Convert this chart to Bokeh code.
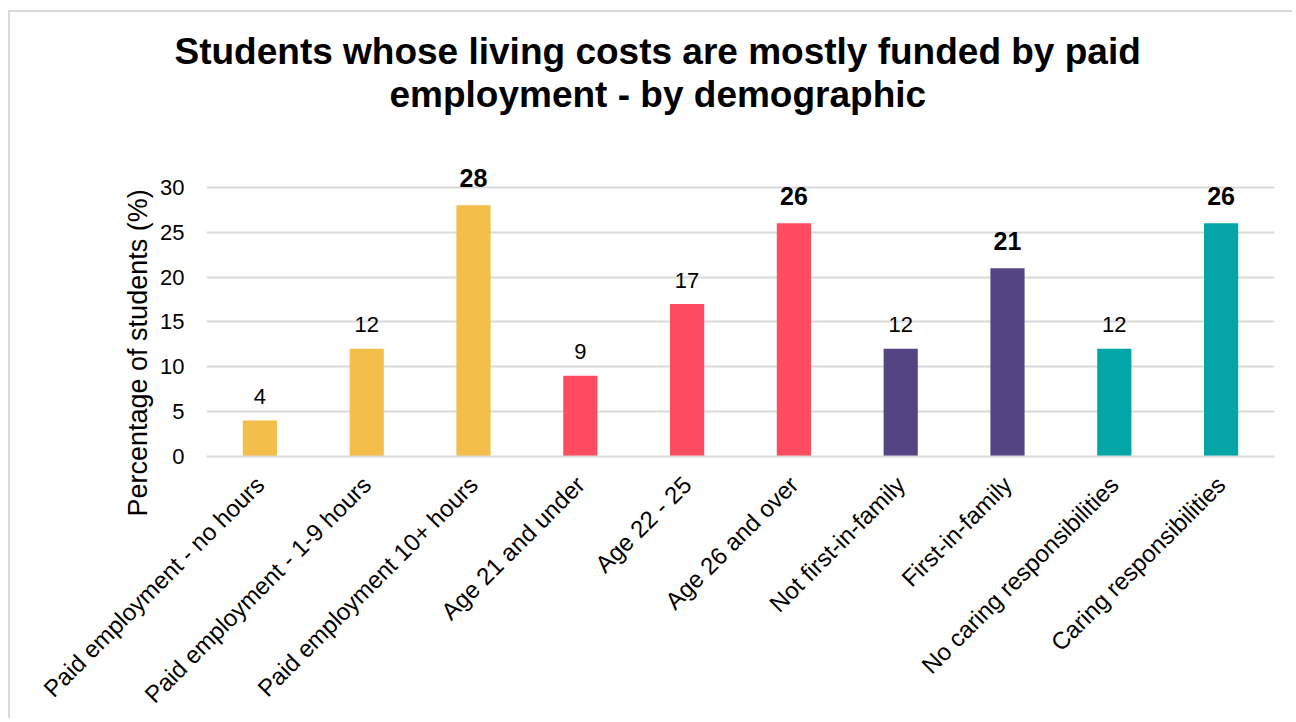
import math
from bokeh.plotting import figure
from bokeh.models import ColumnDataSource, FactorRange, Range1d, Title, FixedTicker
from bokeh.embed import file_html
from bokeh.resources import INLINE

# ---- data ----
categories = [
    "Paid employment - no hours",
    "Paid employment - 1-9 hours",
    "Paid employment 10+ hours",
    "Age 21 and under",
    "Age 22 - 25",
    "Age 26 and over",
    "Not first-in-family",
    "First-in-family",
    "No caring responsibilities",
    "Caring responsibilities",
]
values = [4, 12, 28, 9, 17, 26, 12, 21, 12, 26]
groups = ["Paid employment"] * 3 + ["Age"] * 3 + ["First-in-family"] * 2 + ["Caring"] * 2
y_ticks = [0, 5, 10, 15, 20, 25, 30]
title_lines = ["Students whose living costs are mostly funded by paid",
               "employment - by demographic"]
y_label = "Percentage of students (%)"

# ---- styles ----
group_colors = {"Paid employment": "#F4BE4A", "Age": "#FF4B5F",
                "First-in-family": "#544484", "Caring": "#02A6A6"}
FONT = "Liberation Sans"

colors = [group_colors[g] for g in groups]
group_max = {}
for g, v in zip(groups, values):
    group_max[g] = max(group_max.get(g, 0), v)
is_bold = [v == group_max[g] for g, v in zip(groups, values)]

src = ColumnDataSource(dict(cat=categories, val=values, color=colors))
src_norm = ColumnDataSource(dict(
    cat=[c for c, b in zip(categories, is_bold) if not b],
    val=[v for v, b in zip(values, is_bold) if not b],
    label=[str(v) for v, b in zip(values, is_bold) if not b]))
src_bold = ColumnDataSource(dict(
    cat=[c for c, b in zip(categories, is_bold) if b],
    val=[v for v, b in zip(values, is_bold) if b],
    label=[str(v) for v, b in zip(values, is_bold) if b]))

p = figure(
    x_range=FactorRange(*categories, range_padding=0),
    y_range=Range1d(0, 33),
    width=1284, height=708,
    title=None,
    output_backend="svg", toolbar_location=None,
    min_border_left=196, min_border_right=20,
    min_border_top=0, min_border_bottom=259,
    styles={"margin-left": "8px", "margin-top": "10px",
            "border-left": "2px solid #D9D9D9", "border-top": "2px solid #D9D9D9"},
)
p.outline_line_color = None
p.background_fill_color = "white"
p.border_fill_color = "white"

p.vbar(x="cat", top="val", width=0.32, color="color", line_color=None, source=src)

p.text(x="cat", y="val", text="label", source=src_norm,
       text_align="center", text_baseline="alphabetic", y_offset=-24,
       text_font={"value": FONT}, text_font_size={"value": "22px"}, text_color="#000000")
p.text(x="cat", y="val", text="label", source=src_bold,
       text_align="center", text_baseline="alphabetic", y_offset=-27,
       text_font={"value": FONT}, text_font_size={"value": "25px"},
       text_font_style="bold", text_color="#000000")

# grid
p.xgrid.grid_line_color = None
p.ygrid.grid_line_color = "#D9D9D9"
p.ygrid.grid_line_width = 2
p.ygrid.ticker = FixedTicker(ticks=y_ticks)

# y axis
p.yaxis.ticker = FixedTicker(ticks=y_ticks)
p.yaxis.axis_line_color = None
p.yaxis.major_tick_line_color = None
p.yaxis.minor_tick_line_color = None
p.yaxis.major_tick_out = 0
p.yaxis.major_tick_in = 0
p.yaxis.minor_tick_out = 0
p.yaxis.major_label_standoff = 22
p.yaxis.major_label_text_font = FONT
p.yaxis.major_label_text_font_size = "22px"
p.yaxis.major_label_text_color = "#000000"

# x axis
p.xaxis.axis_line_color = "#D9D9D9"
p.xaxis.axis_line_width = 2
p.xaxis.major_tick_line_color = None
p.xaxis.minor_tick_line_color = None
p.xaxis.major_tick_out = 0
p.xaxis.major_tick_in = 0
p.xaxis.major_label_orientation = math.pi / 4
p.xaxis.major_label_standoff = 24
p.xaxis.major_label_text_font = FONT
p.xaxis.major_label_text_font_size = "24px"
p.xaxis.major_label_text_color = "#000000"

# y axis title as a left-side title (positioned along the axis)
p.add_layout(Title(text=y_label, align="left", offset=-60, standoff=10,
                   text_font=FONT, text_font_size="27px", text_font_style="normal",
                   text_color="#000000"), "left")

# chart title: spacer, line 2, line 1, spacer (innermost first)
def spacer(h):
    return Title(text=" ", text_font_size="1px", standoff=h)

p.add_layout(spacer(43), "above")
p.add_layout(Title(text=title_lines[1], align="left", offset=183, standoff=0,
                   text_font=FONT, text_font_size="37px", text_font_style="bold",
                   text_color="#000000"), "above")
p.add_layout(Title(text=title_lines[0], align="left", offset=-32, standoff=0,
                   text_font=FONT, text_font_size="37px", text_font_style="bold",
                   text_color="#000000"), "above")
p.add_layout(spacer(13), "above")

open("out.html", "w").write(file_html(p, INLINE))
